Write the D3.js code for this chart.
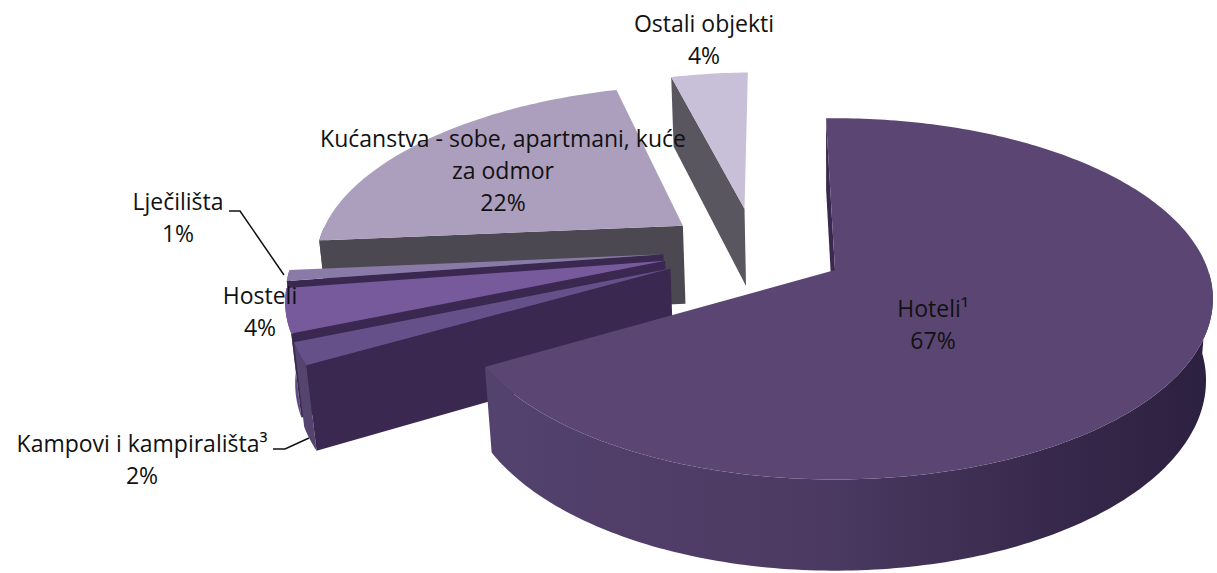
<!DOCTYPE html>
<html>
<head>
<meta charset="utf-8">
<script src="https://cdn.jsdelivr.net/npm/d3@7"></script>
<style>
  html, body { margin: 0; padding: 0; background: #fff; }
  text { font-family: "Open Sans", sans-serif; font-size: 23px; fill: #111; }
</style>
</head>
<body>
<div id="container"></div>
<script>
// chart data
const categories = ["Hoteli¹", "Kampovi i kampirališta³", "Hosteli", "Lječilišta", "Kućanstva - sobe, apartmani, kuće za odmor", "Ostali objekti"];
const shares = [67, 2, 4, 1, 22, 4];
const topColors = ["#5b4673", "#65508a", "#775a9b", "#8a7aa8", "#ac9fbd", "#c8bfd8"];
const wallColors = ["#3a2850", "#3a2850", "#3a2850", "#3a2850", "#4c4852", "#5a5660"];
const sideColors = ["#4a3860", "#54446e", "#5c4a80", "#6a5a88", "#6a6472", "#6a6672"];

const width = 1217, height = 573;

// perspective projection of the pie plane
const tilt = 0.16, sink = 0.018, depth = 82, explode = 0.25;
const xScale = d3.scaleLinear().domain([0, 1]).range([835, 1208]);
const yScale = d3.scaleLinear().domain([0, 1]).range([270, 94]);

function project(u, v, z) {
  let w = 1 + tilt * v + sink * z;
  return [xScale(u / w), yScale(v / w) + depth * z / w];
}

const rotation = -1.6 * Math.PI / 180;
const pie = d3.pie().sort(null).startAngle(rotation).endAngle(rotation + 2 * Math.PI);
const slices = pie(shares);

// the first slice's tip is the plane origin
const firstMid = (slices[0].startAngle + slices[0].endAngle) / 2;
const originU = -explode * Math.sin(firstMid);
const originV = -explode * Math.cos(firstMid);

function tip(s) {
  let mid = (s.startAngle + s.endAngle) / 2;
  return [originU + explode * Math.sin(mid), originV + explode * Math.cos(mid)];
}

function rim(s, angle, z) {
  let t = tip(s);
  return project(t[0] + Math.sin(angle), t[1] + Math.cos(angle), z);
}

function arcAngles(s) {
  let n = Math.max(2, Math.ceil((s.endAngle - s.startAngle) * 60));
  return d3.range(n + 1).map(i => s.startAngle + (s.endAngle - s.startAngle) * i / n);
}

const line = d3.line().curve(d3.curveLinearClosed);

let svg = d3.select("#container").
append("svg").
attr("width", width).
attr("height", height);

// shading of the big outer wall
let grad = svg.append("defs").
append("linearGradient").
attr("id", "outerWall").
attr("gradientUnits", "userSpaceOnUse").
attr("x1", 480).attr("x2", 1213).attr("y1", 0).attr("y2", 0);
grad.append("stop").attr("offset", "0").attr("stop-color", "#54426f");
grad.append("stop").attr("offset", "0.45").attr("stop-color", "#4c3a62");
grad.append("stop").attr("offset", "0.8").attr("stop-color", "#36284a");
grad.append("stop").attr("offset", "1").attr("stop-color", "#2c2040");

// back to front
const drawOrder = [5, 4, 3, 2, 1, 0];

drawOrder.forEach(i => {
  let s = slices[i];
  let t = tip(s);
  let g = svg.append("g").attr("class", "slice");
  let top0 = project(t[0], t[1], 0);
  let bottom0 = project(t[0], t[1], 1);
  let angles = arcAngles(s);

  // outer wall, only the part that faces the viewer
  let front = angles.filter(a => Math.cos(a) < 0);
  if (front.length > 1) {
    g.append("path").
    attr("d", line(front.map(a => rim(s, a, 0)).concat(front.slice().reverse().map(a => rim(s, a, 1))))).
    attr("fill", i === 0 ? "url(#outerWall)" : sideColors[i]);
  }

  // radial wall facing the viewer
  g.append("path").
  attr("d", line([top0, rim(s, s.startAngle, 0), rim(s, s.startAngle, 1), bottom0])).
  attr("fill", wallColors[i]);

  // top face
  g.append("path").
  attr("d", line([top0].concat(angles.map(a => rim(s, a, 0))))).
  attr("fill", topColors[i]);
});

// leader lines
const leader = d3.line();
svg.append("path").
attr("d", leader([[229, 211], [240, 211], [284, 275]])).
attr("fill", "none").attr("stroke", "#111").attr("stroke-width", 1.5);
svg.append("path").
attr("d", leader([[273, 449], [285, 449], [309, 438]])).
attr("fill", "none").attr("stroke", "#111").attr("stroke-width", 1.5);

// labels
const labelLayout = [
  { i: 0, x: 933, y: 317, lines: [categories[0]] },
  { i: 1, x: 142, y: 452, lines: [categories[1]] },
  { i: 2, x: 260, y: 304, lines: [categories[2]] },
  { i: 3, x: 178, y: 210, lines: [categories[3]] },
  { i: 4, x: 503, y: 147, lines: ["Kućanstva - sobe, apartmani, kuće", "za odmor"] },
  { i: 5, x: 704, y: 32, lines: [categories[5]] }
];

labelLayout.forEach(l => {
  let text = svg.append("text").
  attr("text-anchor", "middle").
  attr("x", l.x).
  attr("y", l.y);
  l.lines.concat([shares[l.i] + "%"]).forEach((t, k) => {
    text.append("tspan").
    attr("x", l.x).
    attr("dy", k === 0 ? 0 : 32).
    text(t);
  });
});
</script>
</body>
</html>
